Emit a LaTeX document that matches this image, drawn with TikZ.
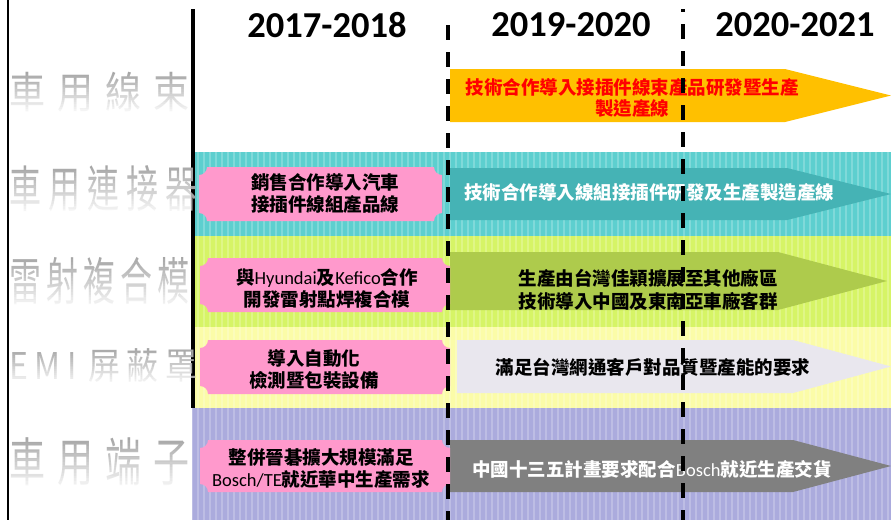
\documentclass[tikz,border=0pt]{standalone}
\usepackage{fontspec}
\usepackage{graphicx}
\setmainfont{Carlito}
\newfontfamily\cjk{Noto Sans CJK TC}
\newfontfamily\lat{Carlito}
\definecolor{cyanband}{HTML}{5DCFCF}
\definecolor{cyanarrow}{HTML}{45B3B5}
\definecolor{limeband}{HTML}{D6F466}
\definecolor{limearrow}{HTML}{AECB4C}
\definecolor{yellowband}{HTML}{FBFCA8}
\definecolor{blueband}{HTML}{ABABDD}
\definecolor{pinkbox}{HTML}{FF99CC}
\definecolor{lightarrow}{HTML}{E9E7EE}
\definecolor{darkarrow}{HTML}{808080}
\definecolor{orangearrow}{HTML}{FFC000}
\definecolor{labgray}{HTML}{A2A2A2}
\newcommand\concavebox[5]{% color, x1,y1,x2,y2
  \fill[#1] ({#2+8},#3) -- ({#4-8},#3) arc[start angle=180,end angle=90,radius=8]
    -- (#4,{#5-8}) arc[start angle=270,end angle=180,radius=8]
    -- ({#2+8},#5) arc[start angle=0,end angle=-90,radius=8]
    -- (#2,{#3+8}) arc[start angle=90,end angle=0,radius=8] -- cycle;}
\newcommand\arrowshape[6]{% color, x1, xb, tip, y1, y2
  \fill[#1] (#2,#5) -- (#3,#5) -- (#4,{(#5+#6)/2}) -- (#3,#6) -- (#2,#6) -- cycle;}
\newcommand\texture[4]{%
  \begin{scope}
  \clip (#1,#2) rectangle (#3,#4);
  \draw[white, opacity=0.22, line width=1.2pt, step=6] (#1,#2) grid (#3,#4);
  \end{scope}}
\newcommand\fadeover[2]{%
  \foreach \i in {0,...,19}{%
    \pgfmathsetmacro\op{\i/19*0.93}%
    \fill[white,opacity=\op] (10,{#1+\i*(#2-#1)/20}) rectangle (191,{#1+(\i+1)*(#2-#1)/20});}}
\begin{document}
\begin{tikzpicture}[x=1pt,y=-1pt,
  year/.style={font=\bfseries\fontsize{36.5}{36.5}\selectfont, inner sep=0},
  boxtext/.style={font=\cjk\bfseries\fontsize{18.5}{22.5}\selectfont, align=center, inner sep=0},
  graylab/.style={font=\cjk\fontsize{36}{36}\selectfont, text=labgray, inner sep=0, anchor=west},
  colline/.style={line width=3.5pt},
  dashline/.style={line width=3.5pt, dash pattern=on 15pt off 12pt}]
\useasboundingbox (0,0) rectangle (891,520);
\fill[white] (0,0) rectangle (891,520);
% bands
\fill[cyanband] (195,152) rectangle (891,236);
\fill[limeband] (195,236) rectangle (891,327);
\fill[yellowband] (195,327) rectangle (891,408);
\texture{195}{152}{891}{408}
% column lines
\draw[line width=2.5pt] (8,0) -- (8,520);
\draw[colline] (193,9) -- (193,408);
\fill[blueband] (191.5,408) rectangle (891,520);
\texture{191.5}{408}{891}{520}
% arrows
\arrowshape{orangearrow}{450}{785}{891}{69}{122}
\arrowshape{cyanarrow}{450}{787}{891}{168}{220}
\arrowshape{limearrow}{450}{778}{887}{252}{310}
\arrowshape{lightarrow}{457}{793}{891}{340}{393}
\arrowshape{darkarrow}{450}{793}{891}{440}{492}
% pink boxes
\concavebox{pinkbox}{199}{167}{442}{221}
\concavebox{pinkbox}{200}{258}{450}{312}
\concavebox{pinkbox}{200}{340}{450}{394}
\concavebox{pinkbox}{200}{440}{450}{492}
% headers
\node[year] (y1) at (327,25) {2017-2018};
\node[year] (y2) at (571,25) {2019-2020};
\node[year] (y3) at (795,25) {2020-2021};
% arrow texts
\node[boxtext, text=red, font=\cjk\bfseries\fontsize{18.5}{21}\selectfont] (a1) at (632,97.5) {技術合作導入接插件線束產品研發暨生產\\製造產線};
\node[boxtext, text=white] (a2) at (649,193) {技術合作導入線組接插件研發及生產製造產線};
\node[boxtext] (a3) at (648,290) {生產由台灣佳穎擴展至其他廠區\\技術導入中國及東南亞車廠客群};
\node[boxtext] (a4) at (653,367) {滿足台灣網通客戶對品質暨產能的要求};
\node[boxtext, text=white] (a5) at (652,469) {中國十三五計畫要求配合{\lat\mdseries Bosch}就近生產交貨};
% pink texts
\node[boxtext] (p1) at (325,193.5) {銷售合作導入汽車\\接插件線組產品線};
\node[boxtext] (p2) at (327,288.5) {與{\lat\mdseries Hyundai}及{\lat\mdseries Kefico}合作\\開發雷射點焊複合模};
\node[boxtext] (p3) at (314,369.5) {導入自動化\\檢測暨包裝設備};
\node[boxtext] (p4) at (321,468.5) {整併晉碁擴大規模滿足\\{\lat\mdseries Bosch/TE}就近華中生產需求};
% gray labels
\node[graylab] (l1) at (9,92) {\scalebox{1}[1.2]{車\hspace{12pt}用\hspace{12pt}線\hspace{12pt}束}};
\node[graylab, font=\cjk\fontsize{32}{32}\selectfont] (l2) at (9,189) {\scalebox{1}[1.55]{車\hspace{7pt}用\hspace{7pt}連\hspace{7pt}接\hspace{7pt}器}};
\node[graylab, font=\cjk\fontsize{32}{32}\selectfont] (l3) at (9,281) {\scalebox{1}[1.6]{雷\hspace{5pt}射\hspace{5pt}複\hspace{5pt}合\hspace{5pt}模}};
\node[graylab, font=\cjk\fontsize{32}{32}\selectfont] (l4) at (9,366) {\scalebox{1}[1.15]{E\hspace{6pt}M\hspace{7pt}I\hspace{12pt}屏\hspace{6pt}蔽\hspace{7pt}罩}};
\node[graylab] (l5) at (9,462) {\scalebox{1}[1.45]{車\hspace{12pt}用\hspace{12pt}端\hspace{12pt}子}};
\fadeover{70}{113}
\fadeover{163}{214}
\fadeover{254}{308}
\fadeover{346}{385}
\fadeover{435}{489}
% dashed lines
\draw[dashline] (448,25) -- (448,520);
\draw[dashline, dash phase=12pt] (683,9) -- (683,520);
\end{tikzpicture}
\end{document}
